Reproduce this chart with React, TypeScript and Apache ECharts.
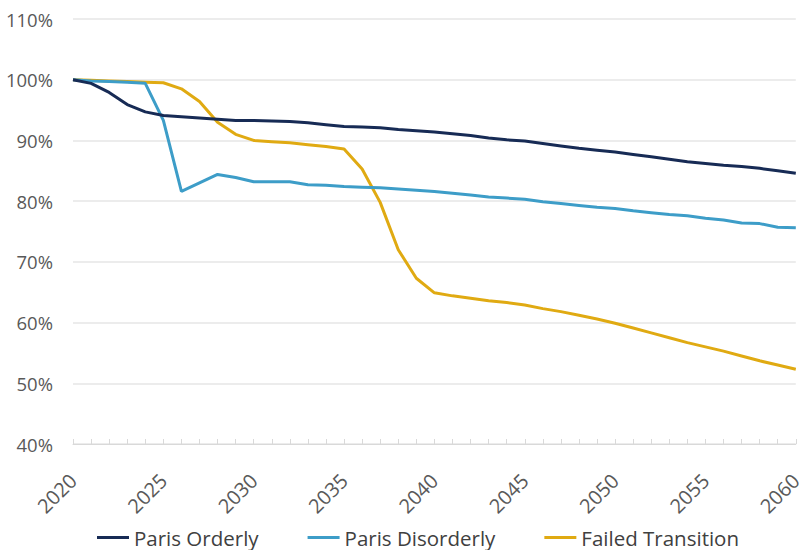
import React, { useEffect, useRef } from "react";
import * as echarts from "echarts";

const years = [
  "2020","2021","2022","2023","2024","2025","2026","2027","2028","2029",
  "2030","2031","2032","2033","2034","2035","2036","2037","2038","2039",
  "2040","2041","2042","2043","2044","2045","2046","2047","2048","2049",
  "2050","2051","2052","2053","2054","2055","2056","2057","2058","2059","2060",
];

const parisOrderly = [
  100, 99.4, 97.9, 95.9, 94.7, 94.1, 93.9, 93.7, 93.5, 93.3,
  93.3, 93.2, 93.1, 92.9, 92.6, 92.3, 92.2, 92.1, 91.8, 91.6,
  91.4, 91.1, 90.8, 90.4, 90.1, 89.9, 89.5, 89.1, 88.7, 88.4,
  88.1, 87.7, 87.3, 86.9, 86.5, 86.2, 85.9, 85.7, 85.4, 85.0, 84.6,
];

const parisDisorderly = [
  100, 99.8, 99.7, 99.6, 99.4, 93.3, 81.6, 83.0, 84.4, 83.9,
  83.2, 83.2, 83.2, 82.7, 82.6, 82.4, 82.3, 82.2, 82.0, 81.8,
  81.6, 81.3, 81.0, 80.7, 80.5, 80.3, 79.9, 79.6, 79.3, 79.0,
  78.8, 78.4, 78.1, 77.8, 77.6, 77.2, 76.9, 76.4, 76.3, 75.7, 75.6,
];

const failedTransition = [
  100, 99.9, 99.8, 99.7, 99.6, 99.5, 98.5, 96.4, 93.0, 91.0,
  90.0, 89.8, 89.6, 89.3, 89.0, 88.6, 85.3, 79.8, 72.0, 67.3,
  64.9, 64.4, 64.0, 63.6, 63.3, 62.9, 62.3, 61.8, 61.2, 60.6,
  59.9, 59.1, 58.3, 57.5, 56.7, 56.0, 55.3, 54.5, 53.7, 53.0, 52.3,
];

const seriesNames = ["Paris Orderly", "Paris Disorderly", "Failed Transition"];
const seriesColors = ["#172b55", "#3d9dc8", "#e0aa12"];

const FONT = "'Open Sans', 'Noto Sans', sans-serif";

export default function App() {
  const ref = useRef<HTMLDivElement>(null);

  useEffect(() => {
    if (!ref.current) return;
    const chart = echarts.init(ref.current, undefined, { renderer: "svg" });
    const datasets = [parisOrderly, parisDisorderly, failedTransition];
    chart.setOption({
      animation: false,
      backgroundColor: "#ffffff",
      textStyle: { fontFamily: FONT },
      grid: { left: 73, right: 2, top: 19, bottom: 106, containLabel: false },
      legend: {
        data: seriesNames,
        left: 92,
        top: 522,
        icon: "rect",
        itemWidth: 32,
        itemHeight: 3,
        itemGap: 49,
        textStyle: { fontSize: 20.5, color: "#404040", fontFamily: FONT },
      },
      xAxis: {
        type: "category",
        data: years,
        boundaryGap: false,
        axisLine: { show: true, lineStyle: { color: "#d9d9d9", width: 1 } },
        axisTick: {
          show: true,
          inside: true,
          length: 5,
          interval: 0,
          lineStyle: { color: "#d9d9d9" },
        },
        axisLabel: {
          interval: 4,
          rotate: 45,
          margin: 33,
          fontSize: 20,
          color: "#595959",
          fontFamily: FONT,
        },
        splitLine: { show: false },
      },
      yAxis: {
        type: "value",
        min: 40,
        max: 110,
        interval: 10,
        axisLine: { show: false },
        axisTick: { show: false },
        axisLabel: {
          formatter: "{value}%",
          margin: 20,
          fontSize: 18.5,
          color: "#595959",
          fontFamily: FONT,
        },
        splitLine: { show: true, lineStyle: { color: "#e6e6e6", width: 1.5 } },
      },
      series: seriesNames.map((name, i) => ({
        name,
        type: "line",
        data: datasets[i],
        symbol: "none",
        lineStyle: { width: 3, color: seriesColors[i] },
        itemStyle: { color: seriesColors[i] },
        z: 3 - i,
      })),
    });
    return () => chart.dispose();
  }, []);

  return (
    <div
      ref={ref}
      style={{ position: "fixed", left: 0, top: 0, width: 805, height: 550 }}
    />
  );
}
